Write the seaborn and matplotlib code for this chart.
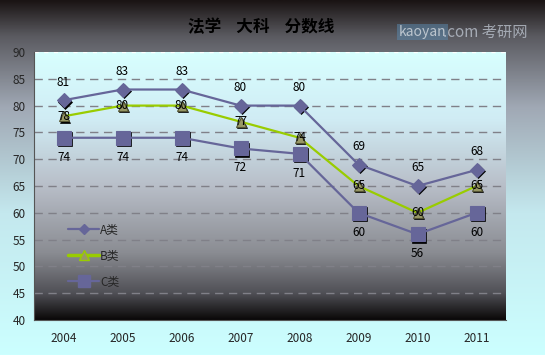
import numpy as np
import pandas as pd
import matplotlib
matplotlib.use("Agg")
import matplotlib.pyplot as plt
import matplotlib.transforms as mtransforms
from matplotlib.colors import LinearSegmentedColormap
from matplotlib.lines import Line2D
import seaborn as sns

years = ["2004", "2005", "2006", "2007", "2008", "2009", "2010", "2011"]
a_scores = [81, 83, 83, 80, 80, 69, 65, 68]
b_scores = [78, 80, 80, 77, 74, 65, 60, 65]
c_scores = [74, 74, 74, 72, 71, 60, 56, 60]
series_names = ["A类", "B类", "C类"]

df = pd.DataFrame({
    "year": years * 3,
    "score": a_scores + b_scores + c_scores,
    "kind": np.repeat(series_names, len(years)),
})

sns.set_style("white")
plt.rcParams["font.family"] = ["Noto Sans CJK SC", "DejaVu Sans"]

fig = plt.figure(figsize=(5.45, 3.55), dpi=100)

# figure background gradient (dark top -> light cyan bottom)
bg = fig.add_axes([0, 0, 1, 1], zorder=-10)
bg_cmap = LinearSegmentedColormap.from_list("bg", [
    (0.0, "#1a1414"), (0.1, "#5a5a60"), (0.3, "#a0a8b4"),
    (0.6, "#c4e8ee"), (1.0, "#ccffff")])
bg.imshow(np.linspace(0, 1, 256).reshape(-1, 1), aspect="auto", cmap=bg_cmap,
          extent=[0, 1, 0, 1], origin="upper")
bg.set_axis_off()

ax = fig.add_axes([34 / 545, 35 / 355, 472 / 545, 268 / 355])
plot_cmap = LinearSegmentedColormap.from_list("pa", [
    (0.0, "#d8ffff"), (0.25, "#d0ecf4"), (0.5, "#b8bec8"),
    (0.75, "#8a8c92"), (0.9, "#505056"), (1.0, "#0a0808")])
ax.imshow(np.linspace(0, 1, 256).reshape(-1, 1), aspect="auto", cmap=plot_cmap,
          extent=[-0.5, 7.5, 40, 90], origin="upper", zorder=0)

palette = {"A类": "#666699", "B类": "#99cc00", "C类": "#666699"}
markers = {"A类": "D", "B类": "^", "C类": "s"}
msizes = {"A类": 7, "B类": 7, "C类": 10}
sns.lineplot(data=df, x="year", y="score", hue="kind", style="kind",
             palette=palette, markers=markers, dashes=False, sort=False,
             linewidth=1.6, ax=ax, zorder=3, legend=False)
for line, name in zip(ax.lines, series_names):
    line.set_markersize(msizes[name])
    line.set_markeredgecolor("#666699" if name != "B类" else "#555533")
    if name == "B类":
        line.set_markerfacecolor("#999966")
    line.set_markeredgewidth(0.8)

# black marker shadows, offset down-right
shadow_tr = mtransforms.offset_copy(ax.transData, fig=fig, x=1.0, y=-1.0, units="points")
for name, vals in zip(series_names, [a_scores, b_scores, c_scores]):
    ax.plot(range(len(years)), vals, ls="none", marker=markers[name],
            markersize=msizes[name], color="black", mec="black", mew=0.5,
            transform=shadow_tr, zorder=2.5)

for i in range(len(years)):
    ax.text(i, a_scores[i] + 3.4, str(a_scores[i]), ha="center", va="center",
            fontsize=8.5, color="black", zorder=5)
    ax.text(i, b_scores[i], str(b_scores[i]), ha="center", va="center",
            fontsize=8.5, color="black", zorder=5)
    ax.text(i, c_scores[i] - 3.6, str(c_scores[i]), ha="center", va="center",
            fontsize=8.5, color="black", zorder=5)

ax.set_xlim(-0.5, 7.5)
ax.set_ylim(40, 90)
ax.set_yticks(range(40, 91, 5))
ax.set_xticks(range(len(years)))
ax.set_xticklabels(years)
ax.set_xticks(np.arange(-0.5, 8, 1), minor=True)
ax.tick_params(axis="x", which="major", length=0, labelsize=8.5, pad=9)
ax.tick_params(axis="x", which="minor", length=4, direction="out", color="#555555")
ax.tick_params(axis="y", length=4, direction="out", labelsize=8.5, color="#555555", pad=2)
for y in range(45, 90, 5):
    ax.axhline(y, color="#808088", lw=1, dashes=(6, 4), zorder=1)
ax.axhline(90, color="white", lw=1, dashes=(3, 4), zorder=1)
ax.set_xlabel("")
ax.set_ylabel("")
for s in ["top", "right"]:
    ax.spines[s].set_visible(False)
ax.spines["left"].set_color("#555555")
ax.spines["bottom"].set_color("#555555")

handles = [
    Line2D([], [], color="#666699", marker="D", markersize=5, lw=1.6),
    Line2D([], [], color="#99cc00", marker="^", markersize=7, lw=2.5,
           markerfacecolor="#999966", markeredgecolor="#99cc00"),
    Line2D([], [], color="#666699", marker="s", markersize=8, lw=1.6),
]
ax.legend(handles, series_names, loc="lower left", bbox_to_anchor=(0.05, 0.08),
          frameon=False, fontsize=8.5, handlelength=2.6, labelspacing=1.1,
          handletextpad=0.1)

fig.text(0.48, 0.925, "法学    大科    分数线", ha="center", va="center",
         fontsize=12, fontweight="bold", color="black")
fig.text(0.775, 0.91, "kaoyan", ha="center", va="center", fontsize=10,
         color="white", alpha=0.6,
         bbox=dict(boxstyle="square,pad=0.1", fc="#5a8ab0", ec="none", alpha=0.5))
fig.text(0.89, 0.91, ".com 考研网", ha="center", va="center", fontsize=11,
         color="#c8d0dc", alpha=0.7)

fig.savefig("out.png", dpi=100)
